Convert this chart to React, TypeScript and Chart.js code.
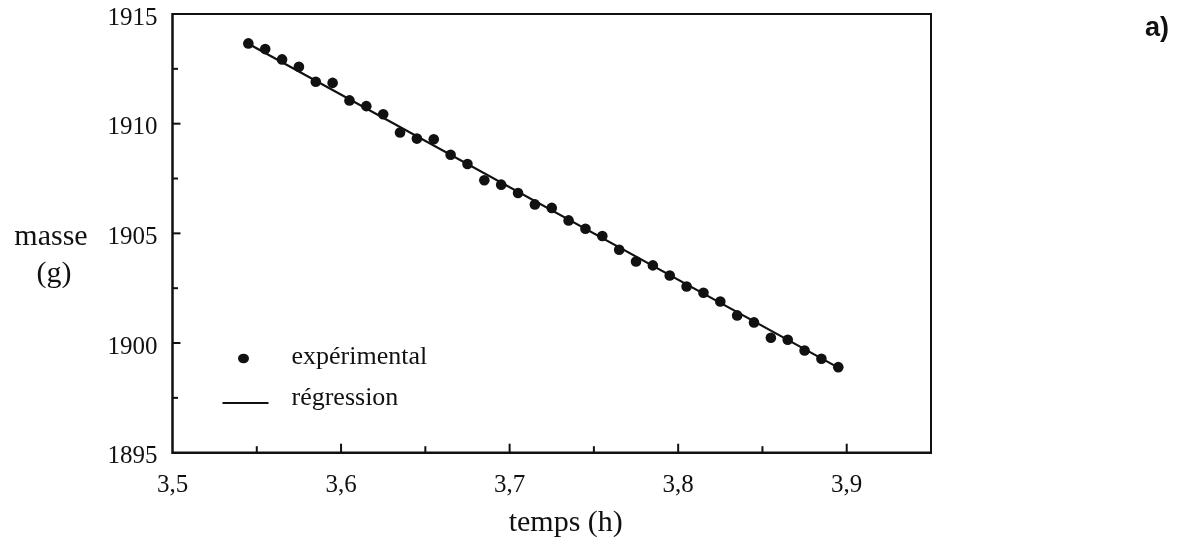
import React, { useEffect, useRef } from "react";
import { Chart, registerables } from "chart.js";

Chart.register(...registerables);

// ---- data ----
const timeH: number[] = [
  3.545, 3.555, 3.565, 3.575, 3.585, 3.595, 3.605, 3.615, 3.625, 3.635, 3.645, 3.655,
  3.665, 3.675, 3.685, 3.695, 3.705, 3.715, 3.725, 3.735, 3.745, 3.755, 3.765, 3.775,
  3.785, 3.795, 3.805, 3.815, 3.825, 3.835, 3.845, 3.855, 3.865, 3.875, 3.885, 3.895,
];
const massG: number[] = [
  1913.66, 1913.4, 1912.93, 1912.59, 1911.91, 1911.86, 1911.06, 1910.8, 1910.43, 1909.6, 1909.32, 1909.29,
  1908.58, 1908.16, 1907.42, 1907.22, 1906.84, 1906.32, 1906.16, 1905.59, 1905.21, 1904.88, 1904.25, 1903.72,
  1903.54, 1903.08, 1902.58, 1902.29, 1901.89, 1901.26, 1900.94, 1900.24, 1900.15, 1899.66, 1899.28, 1898.9,
];
const regressionX: number[] = [3.545, 3.895];
const regressionY: number[] = [1913.64, 1898.88];

const xTicks: number[] = [3.5, 3.6, 3.7, 3.8, 3.9];
const xMinorTicks: number[] = [3.55, 3.65, 3.75, 3.85];
const yTicks: number[] = [1895, 1900, 1905, 1910, 1915];
const yMinorTicks: number[] = [1897.5, 1902.5, 1907.5, 1912.5];

const seriesLabels: string[] = ["expérimental", "régression"];
const xTitle = "temps (h)";
const yTitleLines: string[] = ["masse", "(g)"];
const panelLabel = "a)";

const SERIF = '"Liberation Serif", "DejaVu Serif", serif';
const SANS = '"Liberation Sans", Arial, sans-serif';
const INK = "#111111";

const decorPlugin = {
  id: "decor",
  afterDraw(chart: any) {
    const ctx: CanvasRenderingContext2D = chart.ctx;
    const { left, right, top, bottom } = chart.chartArea;
    const xs = chart.scales.x;
    const ys = chart.scales.y;
    ctx.save();
    ctx.strokeStyle = INK;
    ctx.lineCap = "butt";

    // frame
    ctx.lineWidth = 2;
    ctx.beginPath();
    ctx.moveTo(left, top);
    ctx.lineTo(right, top);
    ctx.lineTo(right, bottom);
    ctx.stroke();
    ctx.lineWidth = 2.5;
    ctx.beginPath();
    ctx.moveTo(left, top - 1);
    ctx.lineTo(left, bottom);
    ctx.lineTo(right + 1, bottom);
    ctx.stroke();

    // inward tick marks
    ctx.lineWidth = 2;
    const xt = (vals: number[], len: number) => {
      vals.forEach((v) => {
        const px = xs.getPixelForValue(v);
        ctx.beginPath();
        ctx.moveTo(px, bottom);
        ctx.lineTo(px, bottom - len);
        ctx.stroke();
      });
    };
    const yt = (vals: number[], len: number) => {
      vals.forEach((v) => {
        const py = ys.getPixelForValue(v);
        ctx.beginPath();
        ctx.moveTo(left, py);
        ctx.lineTo(left + len, py);
        ctx.stroke();
      });
    };
    xt(xTicks.filter((v) => v > xs.min), 9);
    xt(xMinorTicks, 6.5);
    yt(yTicks.filter((v) => v > ys.min && v < ys.max), 8);
    yt(yMinorTicks, 5.5);

    // legend (inside the plot)
    ctx.fillStyle = INK;
    ctx.font = `26px ${SERIF}`;
    ctx.textBaseline = "alphabetic";
    ctx.textAlign = "left";
    ctx.beginPath();
    ctx.ellipse(left + 71, top + 344.5, 5.5, 4.8, 0, 0, Math.PI * 2);
    ctx.fill();
    ctx.fillText(chart.data.datasets[0].label, left + 119, top + 350);
    ctx.lineWidth = 1.8;
    ctx.beginPath();
    ctx.moveTo(left + 50, top + 389);
    ctx.lineTo(left + 96, top + 389);
    ctx.stroke();
    ctx.fillText(chart.data.datasets[1].label, left + 119, top + 391);

    // x title
    ctx.font = `30px ${SERIF}`;
    ctx.textAlign = "center";
    ctx.fillText(xTitle, (left + right) / 2 + 14, bottom + 78);

    // y title (horizontal, two lines)
    ctx.fillText(yTitleLines[0], 51, top + 231);
    ctx.fillText(yTitleLines[1], 54, top + 268);

    // panel label
    ctx.font = `bold 27px ${SANS}`;
    ctx.textAlign = "left";
    ctx.fillText(panelLabel, 1145, 36);

    ctx.restore();
  },
};

export default function App() {
  const canvasRef = useRef<HTMLCanvasElement | null>(null);

  useEffect(() => {
    const canvas = canvasRef.current;
    if (!canvas) return;
    const chart = new Chart(canvas, {
      type: "scatter",
      data: {
        datasets: [
          {
            type: "scatter",
            label: seriesLabels[0],
            data: timeH.map((t, i) => ({ x: t, y: massG[i] })),
            backgroundColor: INK,
            borderColor: INK,
            borderWidth: 0,
            pointRadius: 5.3,
            pointHoverRadius: 5.3,
          },
          {
            type: "line",
            label: seriesLabels[1],
            data: regressionX.map((t, i) => ({ x: t, y: regressionY[i] })),
            borderColor: INK,
            borderWidth: 2.2,
            pointRadius: 0,
            fill: false,
            tension: 0,
          } as any,
        ],
      },
      options: {
        animation: false,
        responsive: false,
        events: [],
        layout: { padding: { left: 0, top: 14, right: 253, bottom: 0 } },
        plugins: {
          legend: { display: false },
          tooltip: { enabled: false },
          title: { display: false },
        },
        scales: {
          x: {
            type: "linear",
            position: "bottom",
            min: 3.5,
            max: 3.95,
            grid: { display: false, drawTicks: false },
            border: { display: false },
            afterBuildTicks: (scale: any) => {
              scale.ticks = xTicks.map((v) => ({ value: v }));
            },
            afterFit: (scale: any) => {
              scale.height = 91.3;
              scale.paddingLeft = 0;
              scale.paddingRight = 0;
            },
            ticks: {
              padding: 18,
              color: INK,
              font: { family: SERIF, size: 25 },
              maxRotation: 0,
              autoSkip: false,
              callback: (v: any) => Number(v).toFixed(1).replace(".", ","),
            },
          },
          y: {
            type: "linear",
            position: "left",
            min: 1895,
            max: 1915,
            grid: { display: false, drawTicks: false },
            border: { display: false },
            afterBuildTicks: (scale: any) => {
              scale.ticks = yTicks.map((v) => ({ value: v }));
            },
            afterFit: (scale: any) => {
              scale.width = 172.5;
              scale.paddingTop = 0;
              scale.paddingBottom = 0;
            },
            ticks: {
              padding: 15,
              labelOffset: 4,
              color: INK,
              font: { family: SERIF, size: 25 },
              autoSkip: false,
              callback: (v: any) => String(v),
            },
          },
        },
      },
      plugins: [decorPlugin],
    });
    return () => chart.destroy();
  }, []);

  return (
    <div style={{ position: "absolute", left: 0, top: 0, width: 1184, height: 544, background: "#ffffff" }}>
      <canvas ref={canvasRef} width={1184} height={544} />
    </div>
  );
}
